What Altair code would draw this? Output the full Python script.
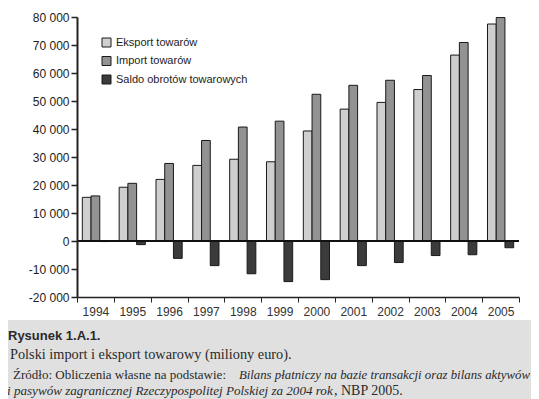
import altair as alt
import pandas as pd

years = ["1994", "1995", "1996", "1997", "1998", "1999", "2000", "2001", "2002", "2003", "2004", "2005"]
eksport = [15600, 19200, 22000, 27000, 29200, 28300, 39300, 47100, 49500, 54100, 66400, 77500]
import_ = [16100, 20600, 27700, 35900, 40700, 42800, 52400, 55600, 57400, 59100, 70900, 79800]
saldo = [-200, -1300, -6200, -8800, -11700, -14500, -13800, -8800, -7700, -5200, -4900, -2400]
series = ["Eksport towarów", "Import towarów", "Saldo obrotów towarowych"]
colors = ["#cfcfcf", "#929295", "#3b3b3b"]
y_ticks = [-20000, -10000, 0, 10000, 20000, 30000, 40000, 50000, 60000, 70000, 80000]

rows = []
for i, y in enumerate(years):
    for s, vals in zip(series, [eksport, import_, saldo]):
        rows.append({"rok": y, "seria": s, "wartosc": vals[i]})
df = pd.DataFrame(rows)

W, H = 442, 280

panel = alt.Chart(pd.DataFrame({"a": [0]})).mark_rect(color="white").encode(
    x=alt.value(-70), x2=alt.value(460), y=alt.value(-10), y2=alt.value(303)
)

label_expr = "(datum.value < 0 ? '-' : '') + replace(format(abs(datum.value), ','), /,/g, ' ')"

y_axis = alt.Axis(values=y_ticks, labelExpr=label_expr,
                  labelOverlap=False, grid=False, tickSize=6, tickColor="#222",
                  domainColor="#222", domainWidth=2, tickWidth=1.5,
                  labelFont="Liberation Sans", labelFontSize=12, labelColor="#222",
                  labelPadding=2, zindex=1)
y_scale = alt.Scale(domain=[-20000, 80000], nice=False)

bars = alt.Chart(df).mark_bar(stroke="#1a1a1a", strokeWidth=1).encode(
    x=alt.X("rok:N", sort=years, title=None,
            scale=alt.Scale(paddingInner=0, paddingOuter=0),
            axis=alt.Axis(labelAngle=0, tickBand="extent", tickSize=5, tickColor="#222",
                          domainColor="#222", domainWidth=1.5, labelFont="Liberation Sans",
                          labelFontSize=12, labelColor="#333", labelPadding=4, zindex=1)),
    xOffset=alt.XOffset("seria:N", sort=series,
                        scale=alt.Scale(paddingInner=0, paddingOuter=0.61)),
    y=alt.Y("wartosc:Q", title=None, scale=y_scale, axis=y_axis),
    color=alt.Color("seria:N", sort=series,
                    scale=alt.Scale(domain=series, range=colors),
                    legend=alt.Legend(title=None, orient="none", legendX=24, legendY=20,
                                      symbolType="square", symbolSize=81,
                                      symbolStrokeColor="#1a1a1a", symbolStrokeWidth=1,
                                      labelFont="Liberation Sans", labelFontSize=11,
                                      labelColor="#222", rowPadding=5.5, labelOffset=4,
                                      padding=0, zindex=1)),
)

zero = alt.Chart(pd.DataFrame({"z": [0]})).mark_rule(color="#111", strokeWidth=2).encode(
    y=alt.Y("z:Q", title=None, scale=y_scale, axis=y_axis)
)

SERIF = "Liberation Serif"

cap1 = alt.Chart(pd.DataFrame({"t": ["Rysunek 1.A.1."]})).mark_text(
    align="left", baseline="middle", font="Liberation Sans",
    fontSize=13, fontWeight="bold", color="#2a2a2a"
).encode(text="t:N", x=alt.value(-69), y=alt.value(319))

cap2 = alt.Chart(pd.DataFrame({"t": ["Polski import i eksport towarowy (miliony euro)."]})).mark_text(
    align="left", baseline="middle", font=SERIF, fontSize=14.3, color="#2a2a2a"
).encode(text="t:N", x=alt.value(-67), y=alt.value(338))

cap3a = alt.Chart(pd.DataFrame({"t": ["Źródło: Obliczenia własne na podstawie:"]})).mark_text(
    align="left", baseline="middle", font=SERIF, fontSize=13, color="#2a2a2a"
).encode(text="t:N", x=alt.value(-64), y=alt.value(358))

cap3b = alt.Chart(pd.DataFrame({"t": ["Bilans płatniczy na bazie transakcji oraz bilans aktywów"]})).mark_text(
    align="right", baseline="middle", font=SERIF, fontSize=12.8, fontStyle="italic", color="#2a2a2a"
).encode(text="t:N", x=alt.value(453), y=alt.value(358))

cap4a = alt.Chart(pd.DataFrame({"t": ["i pasywów zagranicznej Rzeczypospolitej Polskiej za 2004 rok"]})).mark_text(
    align="left", baseline="middle", font=SERIF, fontSize=13.1, fontStyle="italic", color="#2a2a2a"
).encode(text="t:N", x=alt.value(-70), y=alt.value(374))

cap4b = alt.Chart(pd.DataFrame({"t": [", NBP 2005."]})).mark_text(
    align="left", baseline="middle", font=SERIF, fontSize=14, color="#2a2a2a"
).encode(text="t:N", x=alt.value(257), y=alt.value(374))

chart = alt.layer(panel, bars, zero, cap1, cap2, cap3a, cap3b, cap4a, cap4b).properties(
    width=W, height=H,
    autosize=alt.AutoSizeParams(type="none"),
    padding={"left": 69, "top": 9, "right": 12, "bottom": 102},
    background="#e0e0e0",
).configure_view(stroke=None).configure_axis(labelFlush=False)

chart.save("out.html", embed_options={"renderer": "svg", "actions": False})
